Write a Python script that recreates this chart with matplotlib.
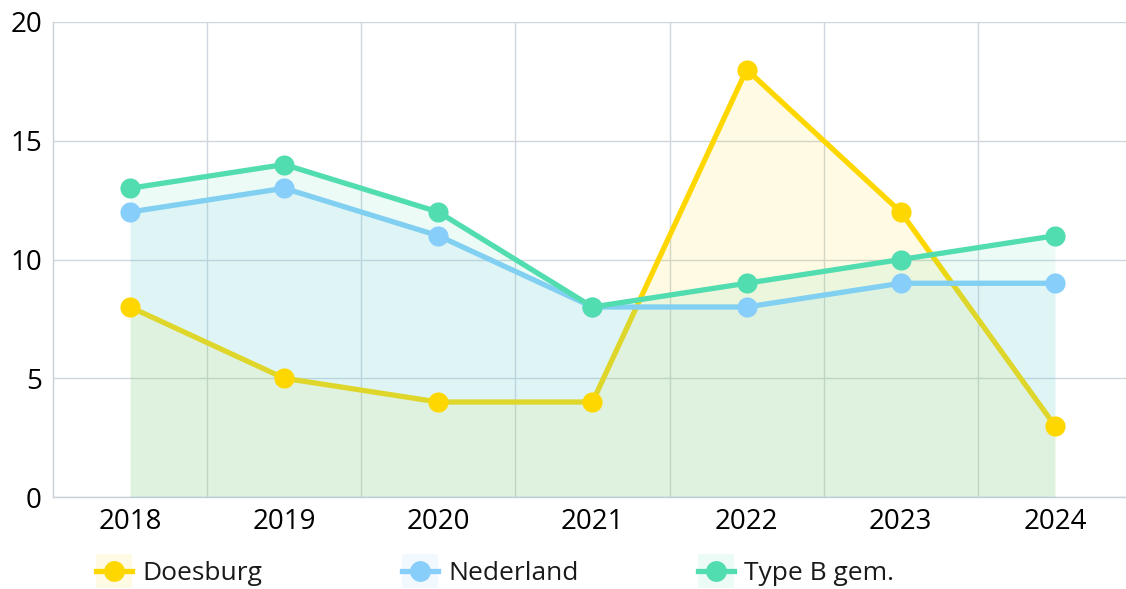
import matplotlib
matplotlib.use("Agg")
import matplotlib.pyplot as plt
from matplotlib.lines import Line2D
from matplotlib.patches import Rectangle

plt.rcParams['font.family'] = ['Open Sans', 'DejaVu Sans']

years = ["2018", "2019", "2020", "2021", "2022", "2023", "2024"]
doesburg = [8, 5, 4, 4, 18, 12, 3]
nederland = [12, 13, 11, 8, 8, 9, 9]
type_b = [13, 14, 12, 8, 9, 10, 11]
y_ticks = [0, 5, 10, 15, 20]

series = [
    ("Doesburg", doesburg, "#ffd700"),
    ("Nederland", nederland, "#87cefa"),
    ("Type B gem.", type_b, "#52ddb0"),
]

W, H = 1126, 589
fig = plt.figure(figsize=(W / 100, H / 100), dpi=100)
ax = fig.add_axes([53 / W, 1 - 497 / H, (1132 - 53) / W, (497 - 22) / H])

x = list(range(len(years)))
for i, (name, vals, col) in enumerate(series):
    ax.fill_between(x, 0, vals, color=col, alpha=0.11, linewidth=0, zorder=2 + i)
    ax.plot(x, vals, color=col, linewidth=3.8, zorder=2 + i, solid_capstyle='round')
    ax.plot(x, vals, linestyle='none', marker='o', markersize=14.5,
            color=col, markeredgewidth=0, zorder=10 + i)

ax.set_xlim(-0.5, len(years) - 0.5)
ax.set_ylim(0, 20)
ax.set_xticks(x)
ax.set_xticklabels(years)
ax.set_yticks(y_ticks)
ax.set_xticks([i + 0.5 for i in x[:-1]], minor=True)
ax.grid(True, axis='y', which='major', color='#cfd6de', linewidth=1)
ax.grid(True, axis='x', which='minor', color='#cfd6de', linewidth=1)
ax.grid(False, axis='x', which='major')
ax.set_axisbelow(True)
ax.tick_params(which='both', length=0)
ax.tick_params(axis='y', labelsize=20, pad=8)
ax.tick_params(axis='x', labelsize=20, pad=8)
for s in ['top', 'right']:
    ax.spines[s].set_visible(False)
for s in ['left', 'bottom']:
    ax.spines[s].set_color('#c8d0d8')
    ax.spines[s].set_linewidth(1)

# legend
starts = [96, 402, 698]
for (name, vals, col), x0 in zip(series, starts):
    bw, bh = 36, 34
    yc = 571
    fig.add_artist(Rectangle((x0 / W, 1 - (yc + bh / 2) / H), bw / W, bh / H,
                             transform=fig.transFigure, facecolor=col, alpha=0.11,
                             edgecolor='none'))
    fig.add_artist(Line2D([x0 / W, (x0 + bw) / W], [1 - yc / H, 1 - yc / H],
                          transform=fig.transFigure, color=col, linewidth=3.8))
    fig.add_artist(Line2D([(x0 + bw / 2) / W], [1 - yc / H], transform=fig.transFigure,
                          color=col, marker='o', markersize=15, markeredgewidth=0))
    fig.text((x0 + bw + 10) / W, 1 - (yc + 2) / H, name, fontsize=19, va='center',
             ha='left', color='#1a1a1a')

fig.savefig("out.png", dpi=100)
